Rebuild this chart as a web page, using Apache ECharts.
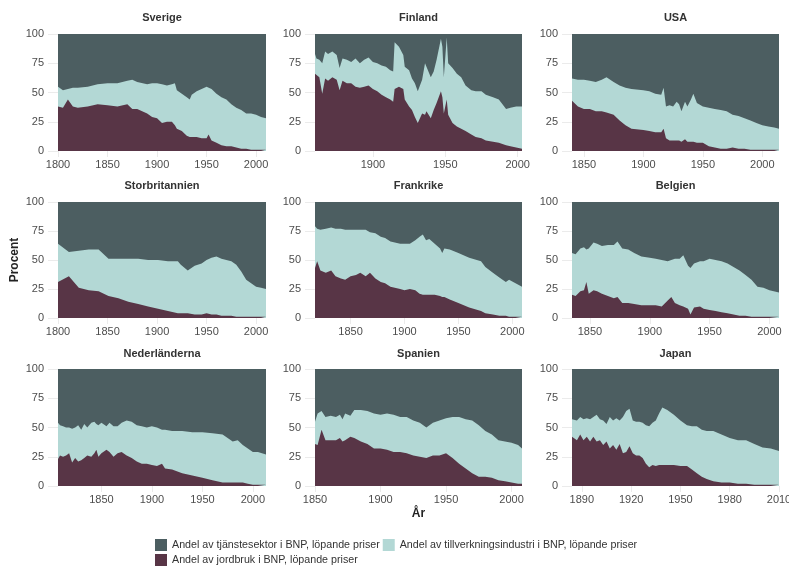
<!DOCTYPE html>
<html>
<head>
<meta charset="utf-8">
<script src="https://cdn.jsdelivr.net/npm/echarts@6/dist/echarts.min.js"></script>
<style>
  html, body { margin: 0; padding: 0; background: #ffffff; }
  #chart { width: 789px; height: 569px; }
</style>
</head>
<body>
<div id="chart"></div>
<script>
// Sector shares of GDP (current prices), percent, per country
const sectorNames = [
  'Andel av jordbruk i BNP, löpande priser',
  'Andel av tillverkningsindustri i BNP, löpande priser',
  'Andel av tjänstesektor i BNP, löpande priser'
];
const yTicks = [0, 25, 50, 75, 100];

// Sverige
const sverigeYears = [1800,1805,1810,1815,1820,1830,1840,1850,1860,1870,1875,1880,1890,1895,1900,1905,1910,1915,1918,1920,1925,1930,1933,1935,1940,1945,1950,1952,1955,1960,1965,1970,1975,1980,1985,1990,1995,2000,2005,2010];
const sverigeAgri  = [38,37,44,38,37,38,40,39,38,40,36,36,32,29,28,24,25,25,22,19,17,13,12,12,12,11,11,14,9,7,5,4,4,3,2,2,1,1,1,1];
const sverigeInd   = [17,15,9,16,17,17,17,19,20,20,25,23,25,29,30,33,31,32,36,33,32,33,32,36,39,42,44,42,44,42,41,40,36,34,33,30,31,30,28,27];
const sverigeServ  = [45,48,47,46,46,45,43,42,42,40,39,41,43,42,42,43,44,43,42,48,51,54,56,52,49,47,45,44,47,51,54,56,60,63,65,68,68,69,71,72];
const sverigeTicks = [1800,1850,1900,1950,2000];

// Finland
const finlandYears = [1860,1861,1863,1865,1867,1869,1872,1875,1877,1879,1882,1885,1888,1891,1894,1897,1900,1903,1906,1909,1912,1914,1915,1918,1921,1922,1925,1927,1929,1931,1934,1936,1937,1940,1942,1944,1947,1948,1949,1951,1952,1955,1958,1961,1964,1968,1971,1975,1978,1983,1987,1992,1995,1999,2003];
const finlandAgri  = [66,65,63,49,62,60,63,61,52,60,58,58,55,54,55,56,53,51,48,46,44,42,53,55,53,44,38,35,29,24,32,31,34,28,35,41,51,46,32,44,31,24,21,19,17,14,12,11,9,8,7,5,4,3,2];
const finlandInd   = [17,14,15,26,23,23,22,21,19,19,20,18,24,21,23,24,23,24,25,26,25,26,40,34,29,28,31,27,29,27,29,44,38,35,33,37,45,43,31,53,44,47,45,44,39,38,39,40,39,38,37,31,33,35,36];
const finlandServ  = [17,21,22,25,15,17,15,18,29,21,22,24,21,25,22,20,24,25,27,28,31,32,7,11,18,28,31,38,42,49,39,25,28,37,32,22,4,11,37,3,25,29,34,37,44,48,49,49,52,54,56,64,63,62,62];
const finlandTicks = [1900,1950,2000];

// USA
const usaYears = [1840,1845,1850,1855,1860,1865,1869,1875,1880,1885,1890,1900,1905,1910,1915,1917,1919,1922,1925,1928,1930,1932,1935,1937,1940,1942,1945,1950,1955,1960,1965,1970,1975,1980,1985,1990,1995,2000,2005,2010,2014];
const usaAgri  = [43,38,36,36,34,34,33,31,26,22,19,18,17,16,16,19,11,9,9,9,9,8,10,8,8,8,7,7,4,3,2,2,3,2,2,1,1,1,1,1,1];
const usaInd   = [19,23,25,24,25,27,30,28,30,32,34,34,34,33,32,35,27,30,29,33,31,26,32,30,36,41,34,31,33,33,33,32,28,28,26,25,23,21,20,19,18];
const usaServ  = [38,39,39,40,41,39,37,41,44,46,47,48,49,51,52,46,62,61,62,58,60,66,58,62,56,51,59,62,63,64,65,66,69,70,72,74,76,78,79,80,81];
const usaTicks = [1850,1900,1950,2000];

// Storbritannien
const ukYears = [1800,1811,1821,1831,1841,1851,1861,1871,1881,1891,1901,1911,1921,1924,1931,1938,1945,1950,1955,1960,1965,1970,1975,1980,1985,1990,1995,2000,2005,2010];
const ukAgri  = [31,36,26,24,23,19,17,14,12,10,8,6,4,4,4,3,3,4,3,3,2,2,2,1,1,1,1,1,1,1];
const ukInd   = [33,21,32,35,36,32,34,37,39,40,42,43,45,42,37,42,44,46,49,50,49,48,47,45,39,32,29,26,25,24];
const ukServ  = [36,43,42,41,41,49,49,49,49,50,50,51,51,54,59,55,53,50,48,47,49,50,51,54,60,67,70,73,74,75];
const ukTicks = [1800,1850,1900,1950,2000];

// Frankrike
const franceYears = [1817,1819,1822,1827,1832,1836,1841,1845,1850,1855,1859,1864,1868,1873,1878,1882,1887,1891,1896,1900,1905,1910,1914,1917,1920,1923,1928,1933,1935,1937,1942,1950,1960,1971,1975,1982,1988,1994,1997,2003,2009];
const franceAgri  = [43,49,41,39,41,36,34,33,36,37,39,36,39,34,31,30,27,26,25,24,25,24,21,20,20,20,20,19,18,18,16,13,9,6,4,3,2,2,1,1,1];
const franceInd   = [36,28,35,38,37,41,43,43,40,39,37,40,35,39,39,39,39,39,39,40,39,43,49,52,47,48,44,41,38,42,43,43,43,43,40,36,33,29,32,29,26];
const franceServ  = [21,23,24,23,22,23,23,24,24,24,24,24,26,27,30,31,34,35,36,36,36,33,30,28,33,32,36,40,44,40,41,44,48,51,56,61,65,69,67,70,73];
const franceTicks = [1850,1900,1950,2000];

// Belgien
const belgiumYears = [1835,1838,1842,1845,1847,1849,1853,1856,1860,1865,1870,1873,1877,1882,1887,1893,1900,1905,1910,1915,1918,1921,1925,1928,1932,1934,1937,1942,1945,1950,1955,1960,1965,1970,1975,1980,1985,1990,1995,2000,2008];
const belgiumAgri  = [20,19,23,24,31,21,24,23,21,19,17,18,13,13,12,11,11,11,10,15,18,13,11,10,8,3,9,10,8,7,6,5,4,3,2,2,1,1,1,1,1];
const belgiumInd   = [36,36,37,37,28,39,41,41,41,44,46,48,47,46,44,42,41,40,40,34,32,38,40,44,37,40,38,39,41,44,44,44,43,41,39,35,32,26,25,23,21];
const belgiumServ  = [44,45,40,39,41,40,35,36,38,37,37,34,40,41,44,47,48,49,50,51,50,49,49,46,55,57,53,51,51,49,50,51,53,56,59,63,67,73,74,76,78];
const belgiumTicks = [1850,1900,1950,2000];

// Nederländerna
const nlYears = [1807,1809,1812,1815,1818,1821,1824,1827,1830,1833,1836,1840,1843,1845,1847,1850,1855,1858,1862,1866,1870,1875,1880,1885,1890,1895,1900,1905,1910,1913,1920,1930,1940,1950,1960,1970,1975,1980,1985,1990,1995,2000,2005,2013];
const nlAgri  = [23,26,25,26,28,20,24,21,22,24,26,25,28,31,25,28,31,29,25,28,29,26,24,21,19,19,18,17,19,15,14,11,9,7,5,3,3,3,3,3,2,1,1,1];
const nlInd   = [31,26,26,24,22,29,26,31,26,29,24,29,27,22,27,26,20,25,26,23,25,30,31,31,32,31,33,33,29,33,33,36,37,39,40,41,38,35,36,32,30,28,28,26];
const nlServ  = [46,48,49,50,50,51,50,48,52,47,50,46,45,47,48,46,49,46,49,49,46,44,45,48,49,50,49,50,52,52,53,53,54,54,55,56,59,62,61,65,68,71,71,73];
const nlTicks = [1800,1850,1900,1950,2000];

// Spanien
const spainYears = [1850,1852,1855,1858,1862,1866,1869,1871,1873,1877,1880,1885,1890,1895,1900,1905,1910,1915,1920,1925,1930,1935,1940,1945,1950,1955,1960,1965,1970,1975,1980,1985,1990,1995,2000,2005,2008];
const spainAgri  = [36,35,48,39,39,39,41,38,39,42,41,38,36,32,32,31,29,29,28,26,25,24,26,26,28,24,19,15,11,8,8,7,5,4,3,2,2];
const spainInd   = [19,27,16,20,21,20,20,19,23,18,24,27,28,30,29,31,32,30,31,30,29,26,28,30,30,35,40,42,45,44,39,37,34,34,34,33,30];
const spainServ  = [45,38,36,41,40,41,39,43,38,40,35,35,36,38,39,38,39,41,41,44,46,50,46,44,42,41,41,43,44,48,53,56,61,62,63,65,68];
const spainTicks = [1850,1900,1950,2000];

// Japan
const japanYears = [1884,1887,1889,1891,1893,1895,1897,1899,1901,1903,1905,1907,1909,1911,1913,1915,1917,1919,1921,1923,1925,1927,1929,1931,1933,1935,1937,1939,1942,1946,1950,1954,1957,1960,1963,1966,1970,1975,1980,1985,1990,1995,2000,2005,2010];
const japanAgri  = [42,39,44,39,42,38,42,38,39,35,38,32,35,31,36,28,29,34,28,26,26,24,19,16,18,17,18,18,18,18,17,17,14,11,8,6,4,3,3,2,2,1,1,1,1];
const japanInd   = [15,17,15,18,16,19,17,23,18,21,15,27,21,27,20,31,35,32,28,29,29,30,33,35,36,39,44,49,47,43,39,35,37,40,40,41,43,41,38,37,37,35,32,31,29];
const japanServ  = [43,44,41,43,42,43,41,39,43,44,47,41,44,42,44,41,36,34,44,45,45,46,48,49,46,44,38,33,35,39,44,48,49,49,52,53,53,56,59,61,61,64,67,68,70];
const japanTicks = [1890,1920,1950,1980,2010];

const panels = [
  { title: 'Sverige',        years: sverigeYears, agri: sverigeAgri, ind: sverigeInd, serv: sverigeServ, ticks: sverigeTicks },
  { title: 'Finland',        years: finlandYears, agri: finlandAgri, ind: finlandInd, serv: finlandServ, ticks: finlandTicks },
  { title: 'USA',            years: usaYears,     agri: usaAgri,     ind: usaInd,     serv: usaServ,     ticks: usaTicks },
  { title: 'Storbritannien', years: ukYears,      agri: ukAgri,      ind: ukInd,      serv: ukServ,      ticks: ukTicks },
  { title: 'Frankrike',      years: franceYears,  agri: franceAgri,  ind: franceInd,  serv: franceServ,  ticks: franceTicks },
  { title: 'Belgien',        years: belgiumYears, agri: belgiumAgri, ind: belgiumInd, serv: belgiumServ, ticks: belgiumTicks },
  { title: 'Nederländerna',  years: nlYears,      agri: nlAgri,      ind: nlInd,      serv: nlServ,      ticks: nlTicks },
  { title: 'Spanien',        years: spainYears,   agri: spainAgri,   ind: spainInd,   serv: spainServ,   ticks: spainTicks },
  { title: 'Japan',          years: japanYears,   agri: japanAgri,   ind: japanInd,   serv: japanServ,   ticks: japanTicks }
];

// Styling and layout of the 3x3 panel grid
const sectorColors = ['#583546', '#b3d8d5', '#4c5e61'];
const colLeft = [58, 315, 572];
const colWidth = [208, 207, 207];
const rowTop = [34, 202, 369];
const rowHeight = [117, 116, 117];
const titleTop = [12, 180, 348];
const FONT = '"Liberation Sans", Arial, Helvetica, sans-serif';
const plainNumber = v => String(v);

const grids = [], xAxes = [], yAxes = [], titles = [], series = [];

panels.forEach((p, i) => {
  const c = i % 3, r = Math.floor(i / 3);
  grids.push({
    left: colLeft[c], top: rowTop[r], width: colWidth[c], height: rowHeight[r],
    containLabel: false, outerBoundsMode: 'none'
  });
  titles.push({
    text: p.title, left: colLeft[c] + colWidth[c] / 2, top: titleTop[r], textAlign: 'center', padding: 0,
    textStyle: { fontSize: 11, fontWeight: 'bold', color: '#333333', fontFamily: FONT }
  });
  xAxes.push({
    type: 'value', gridIndex: i, min: p.years[0], max: p.years[p.years.length - 1],
    axisLine: { show: false },
    axisTick: { show: true, length: 6, lineStyle: { color: '#ebebeb' }, customValues: p.ticks },
    axisLabel: { customValues: p.ticks, formatter: plainNumber, fontSize: 11, color: '#4d4d4d', margin: 8, fontFamily: FONT },
    splitLine: { show: false },
    name: i === 7 ? 'År' : '', nameLocation: 'middle', nameGap: 22,
    nameTextStyle: { fontSize: 12, fontWeight: 'bold', color: '#222222', fontFamily: FONT }
  });
  yAxes.push({
    type: 'value', gridIndex: i, min: 0, max: 100, interval: 25,
    axisLine: { show: false },
    axisTick: { show: true, length: 10, lineStyle: { color: '#ebebeb' } },
    axisLabel: { fontSize: 11, color: '#4d4d4d', margin: 14, fontFamily: FONT, customValues: yTicks },
    splitLine: { show: false },
    name: i === 3 ? 'Procent' : '', nameLocation: 'middle', nameGap: 37, nameRotate: 90,
    nameTextStyle: { fontSize: 12, fontWeight: 'bold', color: '#222222', fontFamily: FONT }
  });

  // Stacked shares: each band's upper edge is the running total of the sectors below it.
  // Bands are painted from the top one down so each lower band covers the one above.
  const upperAgri = p.agri.slice();
  const upperInd = p.agri.map((a, j) => a + p.ind[j]);
  const upperServ = upperInd.map((v, j) => v + p.serv[j]);
  [[2, upperServ], [1, upperInd], [0, upperAgri]].forEach(([k, upper]) => {
    series.push({
      type: 'line', name: sectorNames[k], xAxisIndex: i, yAxisIndex: i,
      data: p.years.map((y, j) => [y, upper[j]]),
      symbol: 'none', silent: true,
      lineStyle: { width: 0 },
      itemStyle: { color: sectorColors[k] },
      areaStyle: { color: sectorColors[k], opacity: 1, origin: 'start' }
    });
  });
});

const chart = echarts.init(document.getElementById('chart'), null, { renderer: 'canvas' });
chart.setOption({
  backgroundColor: '#ffffff',
  animation: false,
  textStyle: { fontFamily: FONT },
  title: titles,
  grid: grids,
  xAxis: xAxes,
  yAxis: yAxes,
  legend: {
    data: [sectorNames[2], sectorNames[1], sectorNames[0]],
    left: 155, top: 539, width: 495,
    orient: 'horizontal', icon: 'rect', itemWidth: 12, itemHeight: 12, itemGap: 3, padding: 0,
    selectedMode: false,
    textStyle: { fontSize: 10.7, color: '#333333', fontFamily: FONT }
  },
  series: series
});
</script>
</body>
</html>
